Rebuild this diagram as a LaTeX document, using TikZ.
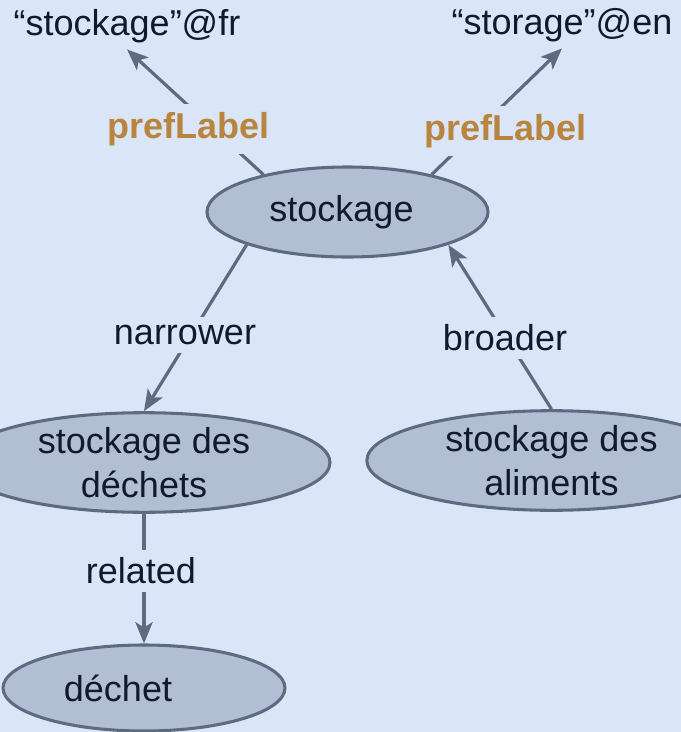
\documentclass[tikz,border=0pt]{standalone}
\usepackage{fontspec}
\setmainfont{Liberation Sans}
\usepackage{tikz}
\usetikzlibrary{shapes.geometric}
\usetikzlibrary{arrows.meta}

\definecolor{bgblue}{HTML}{DAE6F8}
\definecolor{nodefill}{HTML}{B1BED3}
\definecolor{edgegray}{HTML}{5E6A80}
\definecolor{textdark}{HTML}{111A2B}
\definecolor{labelorange}{HTML}{B8843E}

\begin{document}
\begin{tikzpicture}[
            x=0.75pt, y=-0.75pt,
            font=\fontsize{27pt}{33pt}\selectfont,
            text=textdark,
            concept/.style={ellipse,draw=edgegray,fill=nodefill,line width=2.3pt,inner sep=0pt,align=center},
            literal/.style={inner sep=5pt},
            rel/.style={draw=edgegray,line width=2.4pt,-{Stealth[length=16pt,width=13pt,inset=4pt]}},
            relname/.style={fill=bgblue,inner sep=6pt},
            pref/.style={relname,font=\fontsize{27pt}{33pt}\selectfont\bfseries,text=labelorange},
            ]
            \fill[bgblue] (0,0) rectangle (681,732);
            \useasboundingbox (0,0) rectangle (681,732);
            \clip (0,0) rectangle (681,732);

            \node[concept, minimum width=210.75pt, minimum height=67.5pt] (stock) at (347.5,212) {stockage\hspace*{9pt}};
            \node[concept, minimum width=279pt, minimum height=71.25pt] (dechets) at (144,462.5) {stockage des\\déchets};
            \node[concept, minimum width=277pt, minimum height=71.25pt] (aliments) at (551.5,460.5) {stockage des\\aliments};
            \node[concept, minimum width=211.5pt, minimum height=64.5pt] (dechet) at (144,688) {déchet\hspace*{39pt}};
            \node[literal, anchor=base] (fr) at (127,35) {“stockage”@fr};
            \node[literal, anchor=base] (en) at (562,34) {“storage”@en};

            \draw[rel] (stock.156) -- (fr.south);
            \draw[rel] (stock.24) -- (en.south);
            \draw[rel] (stock.198) -- (dechets.north);
            \draw[rel] (aliments.north) -- (stock.-18);
            \draw[rel] (dechets.south) -- (dechet.north);

            \node[pref] (preffr) at (188.5,129) {prefLabel};
            \node[pref] (prefen) at (505.5,131) {prefLabel};
            \node[relname] (narrower) at (185,335) {narrower};
            \node[relname] (broader) at (505,338) {broader};
            \node[relname] (related) at (141,571) {related};
        \end{tikzpicture}
\end{document}
